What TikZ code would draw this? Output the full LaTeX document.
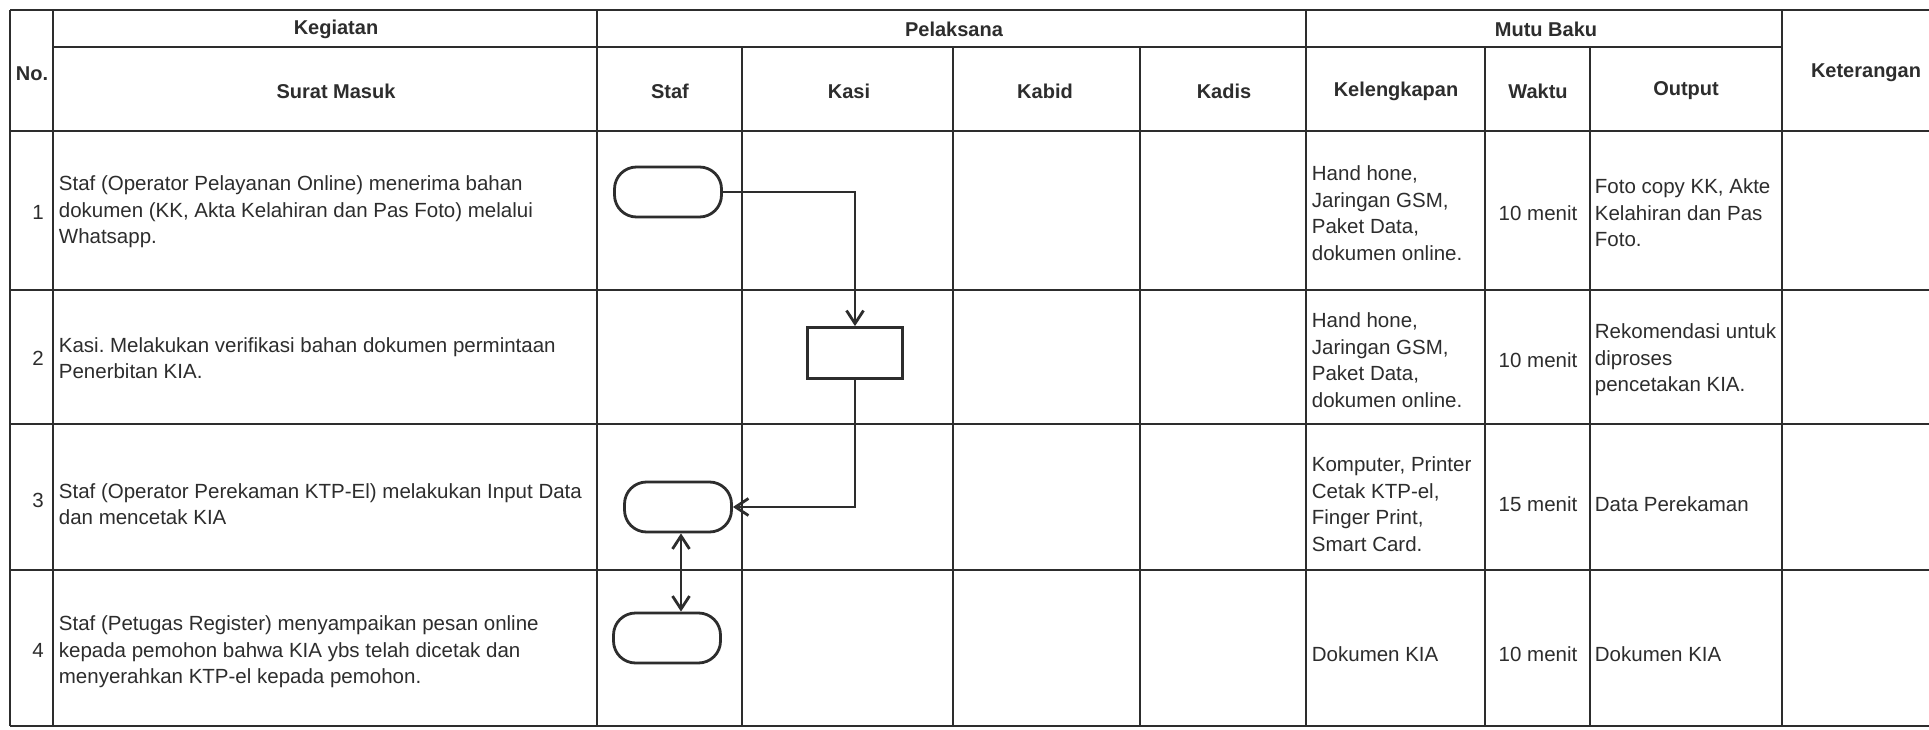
\documentclass[tikz,border=0pt]{standalone}
\usepackage{fontspec}
\setmainfont{Liberation Sans}
\usetikzlibrary{arrows.meta}
\definecolor{ink}{RGB}{45,45,45}
\begin{document}
\frenchspacing
\begin{tikzpicture}[x=1pt, y=-1pt, line width=1.8pt, color=ink,
  hd/.style={font=\fontsize{20}{24}\selectfont\bfseries, inner sep=0pt},
  txt/.style={font=\fontsize{20.5}{26.5}\selectfont, align=left, anchor=west, inner sep=0pt},
  mid/.style={font=\fontsize{20.5}{26.5}\selectfont, inner sep=0pt},
  term/.style={draw, line width=2.8pt, rounded corners=22pt, minimum width=107pt, minimum height=50pt},
  proc/.style={draw, line width=2.8pt, minimum width=95pt, minimum height=51pt},
  flow/.style={line width=2.8pt, -{Straight Barb[length=13pt, width=17pt]}},
  twoway/.style={line width=2.8pt, {Straight Barb[length=13pt, width=17pt]}-{Straight Barb[length=13pt, width=17pt]}}]
\useasboundingbox (0,0) rectangle (1929,730);
\fill[white] (0,0) rectangle (1929,730);
\draw (10,10) -- (1929,10);
\draw (53,47) -- (1782,47);
\draw (10,131) -- (1929,131);
\draw (10,290) -- (1929,290);
\draw (10,424) -- (1929,424);
\draw (10,570) -- (1929,570);
\draw (10,726) -- (1929,726);
\draw (10,10) -- (10,726);
\draw (53,10) -- (53,726);
\draw (597,10) -- (597,726);
\draw (742,47) -- (742,726);
\draw (953,47) -- (953,726);
\draw (1140,47) -- (1140,726);
\draw (1306,10) -- (1306,726);
\draw (1485,47) -- (1485,726);
\draw (1590,47) -- (1590,726);
\draw (1782,10) -- (1782,726);
\node[hd] (hno) at (32,74) {No.};
\node[hd] (hkeg) at (336,29) {Kegiatan};
\node[hd] (hsurat) at (336,91) {Surat Masuk};
\node[hd] (hpel) at (954,29) {Pelaksana};
\node[hd] (hstaf) at (670,91) {Staf};
\node[hd] (hkasi) at (849,91) {Kasi};
\node[hd] (hkabid) at (1045,91) {Kabid};
\node[hd] (hkadis) at (1224,91) {Kadis};
\node[hd] (hmutu) at (1546,29) {Mutu Baku};
\node[hd] (hkel) at (1396,91) {Kelengkapan};
\node[hd] (hwaktu) at (1538,91) {Waktu};
\node[hd] (hout) at (1686,91) {Output};
\node[hd] (hket) at (1866,73) {Keterangan};
\node[mid] (n1) at (38,212) {1};
\node[mid] (n2) at (38,358) {2};
\node[mid] (n3) at (38,500) {3};
\node[mid] (n4) at (38,650) {4};
\node[txt] (k1) at (58,212) {Staf (Operator Pelayanan Online) menerima bahan\\dokumen (KK, Akta Kelahiran dan Pas Foto) melalui\\Whatsapp.};
\node[txt] (k2) at (58,358) {Kasi. Melakukan verifikasi bahan dokumen permintaan\\Penerbitan KIA.};
\node[txt] (k3) at (58,504) {Staf (Operator Perekaman KTP-El) melakukan Input Data\\dan mencetak KIA};
\node[txt] (k4) at (58,652) {Staf (Petugas Register) menyampaikan pesan online\\kepada pemohon bahwa KIA ybs telah dicetak dan\\menyerahkan KTP-el kepada pemohon.};
\node[txt] (l1) at (1311,213) {Hand hone,\\Jaringan GSM,\\Paket Data,\\dokumen online.};
\node[txt] (l2) at (1311,360) {Hand hone,\\Jaringan GSM,\\Paket Data,\\dokumen online.};
\node[txt] (l3) at (1311,504) {Komputer, Printer\\Cetak KTP-el,\\Finger Print,\\Smart Card.};
\node[txt] (l4) at (1311,654) {Dokumen KIA};
\node[mid] (w1) at (1538,213) {10 menit};
\node[mid] (w2) at (1538,360) {10 menit};
\node[mid] (w3) at (1538,504) {15 menit};
\node[mid] (w4) at (1538,654) {10 menit};
\node[txt] (o1) at (1594,213) {Foto copy KK, Akte\\Kelahiran dan Pas\\Foto.};
\node[txt] (o2) at (1594,360) {Rekomendasi untuk\\diproses\\pencetakan KIA.};
\node[txt] (o3) at (1594,504) {Data Perekaman};
\node[txt] (o4) at (1594,654) {Dokumen KIA};
\node[term] (t1) at (668,192) {};
\node[proc] (p2) at (855,353) {};
\node[term] (t3) at (678,507) {};
\node[term] (t4) at (667,638) {};
\draw[flow] (t1.east) -| (p2.north);
\draw[flow] (p2.south) |- (t3.east);
\draw[twoway] ([xshift=3pt]t3.south) -- ([xshift=3pt]t3.south |- t4.north);
\end{tikzpicture}
\end{document}
